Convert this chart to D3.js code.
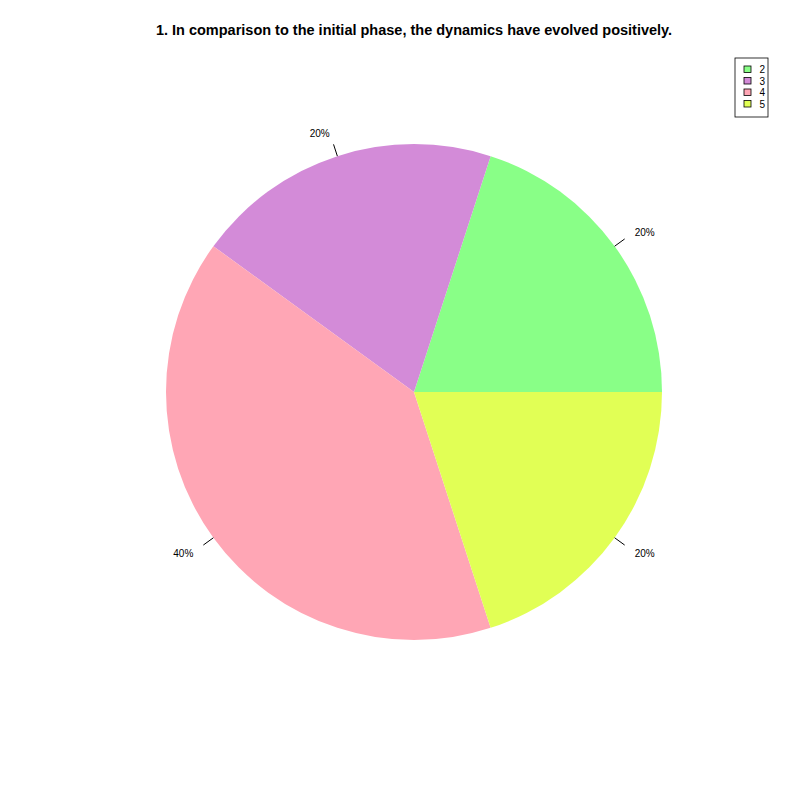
<!DOCTYPE html>
<html>
<head>
<meta charset="utf-8">
<script src="https://cdn.jsdelivr.net/npm/d3@7"></script>
<style>
	body { margin: 0; background: #fff; }
	text { font-family: "Liberation Sans", Arial, sans-serif; }
</style>
</head>
<body>
<div id="root"></div>
<script>
const categories = ["2", "3", "4", "5"];
const values = [20, 20, 40, 20];
const labels = ["20%", "20%", "40%", "20%"];
const colors = ["#89ff87", "#d38bd8", "#ffa6b5", "#e1ff55"];
const title = "1. In comparison to the initial phase, the dynamics have evolved positively.";

function drawPie() {
	const width = 800;
	const height = 800;
	const cx = 414, cy = 392, radius = 248;

	let svg = d3.select("#root")
				.append("svg")
				.attr("width", width)
				.attr("height", height);

	svg.append("text")
		.attr("x", cx)
		.attr("y", 35)
		.attr("text-anchor", "middle")
		.style("font-size", "14.5px")
		.style("font-weight", "bold")
		.text(title);

	// R-style pie: start at 3 o'clock, counterclockwise
	const total = d3.sum(values);
	const angle = d3.scaleLinear().domain([0, total]).range([Math.PI / 2, Math.PI / 2 - 2 * Math.PI]);
	let cum = 0;
	const slices = values.map((v, i) => {
		const s = { start: angle(cum + v), end: angle(cum), i: i, mid: (cum + v / 2) / total * 2 * Math.PI };
		cum += v;
		return s;
	});

	const arc = d3.arc().innerRadius(0).outerRadius(radius);
	let pie = svg.append("g").attr("transform", "translate(" + cx + "," + cy + ")");

	pie.selectAll(".slice")
		.data(slices)
		.enter()
		.append("path")
		.attr("class", "slice")
		.attr("d", d => arc({ startAngle: d.start, endAngle: d.end }))
		.attr("fill", d => colors[d.i]);

	// tick lines and labels
	pie.selectAll(".tick")
		.data(slices)
		.enter()
		.append("line")
		.attr("x1", d => radius * Math.cos(d.mid))
		.attr("y1", d => -radius * Math.sin(d.mid))
		.attr("x2", d => radius * 1.05 * Math.cos(d.mid))
		.attr("y2", d => -radius * 1.05 * Math.sin(d.mid))
		.attr("stroke", "#000")
		.attr("stroke-width", 1);

	pie.selectAll(".lab")
		.data(slices)
		.enter()
		.append("text")
		.attr("x", d => radius * 1.1 * Math.cos(d.mid))
		.attr("y", d => -radius * 1.1 * Math.sin(d.mid))
		.attr("dy", "0.45em")
		.attr("text-anchor", d => Math.cos(d.mid) > 0 ? "start" : "end")
		.style("font-size", "10px")
		.text(d => labels[d.i]);

	// legend
	const legend = svg.append("g").attr("class", "legend").attr("transform", "translate(735,58)");
	legend.append("rect")
		.attr("width", 33)
		.attr("height", 59)
		.attr("fill", "none")
		.attr("stroke", "#000")
		.attr("stroke-width", 0.8);

	const row = d3.scaleLinear().domain([0, 1]).range([11.5, 23]);
	categories.forEach((c, i) => {
		legend.append("rect")
			.attr("x", 9)
			.attr("y", row(i) - 3.5)
			.attr("width", 7)
			.attr("height", 6.5)
			.attr("fill", colors[i])
			.attr("stroke", "#000")
			.attr("stroke-width", 0.8);
		legend.append("text")
			.attr("x", 24.5)
			.attr("y", row(i))
			.attr("dy", "0.38em")
			.style("font-size", "10px")
			.text(c);
	});
}

drawPie();
</script>
</body>
</html>
